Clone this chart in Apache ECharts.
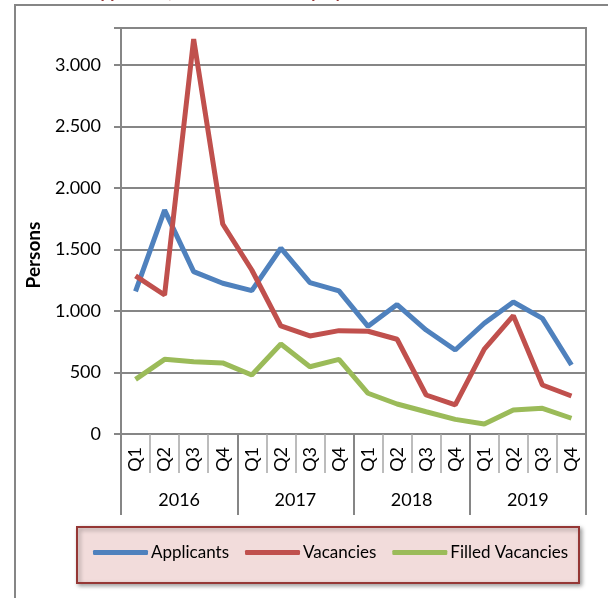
<!DOCTYPE html>
<html>
<head>
<meta charset="utf-8">
<script src="https://cdn.jsdelivr.net/npm/echarts@6/dist/echarts.min.js"></script>
<style>
html,body{margin:0;padding:0;background:#fff;}
#chart{width:608px;height:598px;}
</style>
</head>
<body>
<div id="chart"></div>
<script>
const quarters = ['Q1','Q2','Q3','Q4','Q1','Q2','Q3','Q4','Q1','Q2','Q3','Q4','Q1','Q2','Q3','Q4'];
const years = ['2016','2017','2018','2019'];
const applicants = [1160, 1820, 1320, 1225, 1165, 1510, 1230, 1163, 875, 1052, 845, 683, 900, 1073, 940, 561];
const vacancies = [1285, 1130, 3210, 1707, 1333, 878, 797, 840, 835, 770, 317, 236, 690, 962, 398, 309];
const filledVacancies = [444, 607, 588, 578, 480, 732, 547, 607, 331, 244, 181, 119, 81, 195, 209, 128];
const seriesNames = ['Applicants', 'Vacancies', 'Filled Vacancies'];
const yTicks = {min: 0, max: 3300, interval: 500};
const yAxisTitle = 'Persons';
const titleText = 'Chart 1:  Applicants, Vacancies and Employments';

const FONT = 'Lato, "Liberation Sans", sans-serif';
const GRAY = '#868686';
const fmt = v => v === yTicks.max ? '' : String(v).replace(/\B(?=(\d{3})+(?!\d))/g, '.');

const chart = echarts.init(document.getElementById('chart'), null, {renderer: 'canvas'});
chart.setOption({
  animation: false,
  backgroundColor: '#ffffff',
  textStyle: {fontFamily: FONT},
  graphic: [
    {type: 'rect', z: 0, shape: {x: 15, y: 5, width: 700, height: 700},
     style: {fill: 'none', stroke: GRAY, lineWidth: 2}},
    {type: 'text', z: 1, x: 20, y: 1.5,
     style: {text: titleText, fill: '#953735', fontFamily: FONT, fontSize: 17, fontWeight: 'bold', verticalAlign: 'bottom'}},
    {type: 'text', z: 1, x: 34, y: 255, rotation: Math.PI / 2,
     style: {text: yAxisTitle, fill: '#000', fontFamily: FONT, fontSize: 19, fontWeight: 'bold', align: 'center', verticalAlign: 'middle'}},
    {type: 'rect', z: 1, shape: {x: 77, y: 527, width: 502, height: 56},
     style: {fill: '#f2dcdb', stroke: '#953735', lineWidth: 2,
             shadowBlur: 4, shadowColor: 'rgba(0,0,0,0.35)', shadowOffsetX: 2, shadowOffsetY: 2}}
  ],
  grid: {left: 121, top: 28, width: 465, height: 406, show: true, borderColor: GRAY, borderWidth: 2, backgroundColor: 'transparent', containLabel: false},
  legend: {
    left: 93, top: 544, padding: 0, itemGap: 16, itemWidth: 55, itemHeight: 5, icon: 'roundRect',
    textStyle: {fontFamily: FONT, fontSize: 17, color: '#000', padding: [0, 0, 0, -2]},
    data: seriesNames
  },
  xAxis: [
    {type: 'category', data: quarters, position: 'bottom', boundaryGap: true,
     axisLine: {show: true, lineStyle: {color: GRAY, width: 2}},
     axisTick: {show: true, interval: 0, length: 39, lineStyle: {color: '#a6a6a6', width: 1.5}},
     axisLabel: {interval: 0, rotate: 90, margin: 13, fontSize: 18, color: '#000', fontFamily: FONT},
     splitLine: {show: false}},
    {type: 'category', data: years, position: 'bottom', boundaryGap: true,
     axisLine: {show: false},
     axisTick: {show: true, interval: 0, length: 81, lineStyle: {color: GRAY, width: 2}},
     axisLabel: {interval: 0, margin: 57, fontSize: 18, color: '#000', fontFamily: FONT},
     splitLine: {show: false}}
  ],
  yAxis: {
    type: 'value', min: yTicks.min, max: yTicks.max, interval: yTicks.interval,
    axisLine: {show: true, lineStyle: {color: GRAY, width: 2}},
    axisTick: {show: true, length: 7, lineStyle: {color: GRAY, width: 2}},
    axisLabel: {margin: 20, fontSize: 18, color: '#000', fontFamily: FONT, formatter: fmt},
    splitLine: {show: true, lineStyle: {color: GRAY, width: 2}}
  },
  series: [
    {name: seriesNames[0], type: 'line', data: applicants, symbol: 'none', color: '#4f81bd', lineStyle: {width: 5, color: '#4f81bd'}},
    {name: seriesNames[1], type: 'line', data: vacancies, symbol: 'none', color: '#c0504d', lineStyle: {width: 5, color: '#c0504d'}},
    {name: seriesNames[2], type: 'line', data: filledVacancies, symbol: 'none', color: '#9bbb59', lineStyle: {width: 5, color: '#9bbb59'}}
  ]
});
</script>
</body>
</html>
